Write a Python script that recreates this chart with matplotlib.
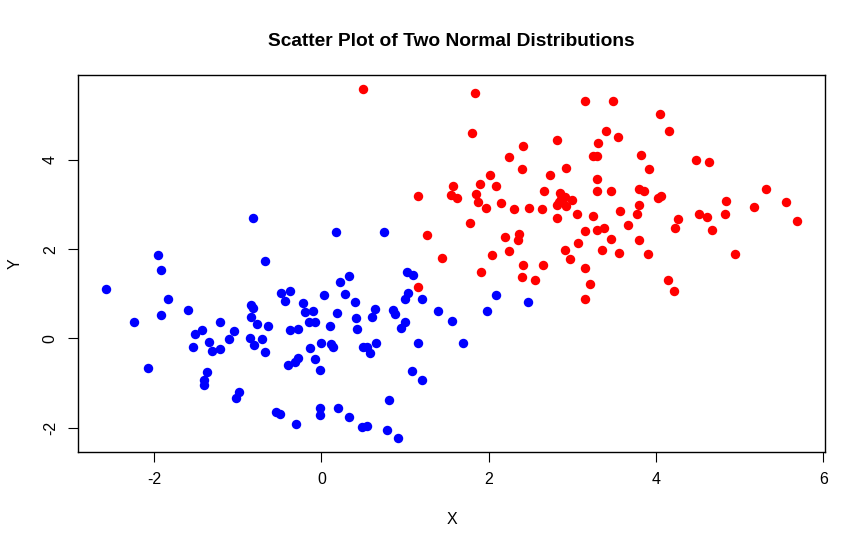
import matplotlib
matplotlib.use("Agg")
import matplotlib.pyplot as plt

blue_x = [-0.82, -1.95, -1.92, -0.67, -2.58, -1.84, -1.60, -1.92, -2.24, -0.48, -0.38, -0.44, -0.22, 0.03,
          -0.84, -0.82, -0.84, -0.77, -0.64, -1.21, -1.05, -1.43, -1.51, -1.11, -1.34, -1.53, -0.86, -0.81,
          -0.71, -0.20, -0.10, -0.15, -0.08, -0.38, -0.28, -0.01, -0.14, -1.31, -1.21, -0.67, -2.07, -1.37,
          -1.40, -1.40, -0.98, -1.02, -0.40, -0.32, -0.28, -0.08, -0.02, -0.54, -0.50, -0.31, -0.02, -0.02,
          0.17, 0.75, 1.02, 1.09, 0.33, 0.22, 0.28, 0.40, 1.03, 1.00, 1.20, 2.09, 0.18, 0.64, 0.61, 0.85,
          0.88, 0.41, 0.10, 0.43, 1.00, 0.95, 1.39, 1.56, 1.98, 0.12, 0.14, 0.50, 0.55, 0.65, 1.15, 1.69,
          0.58, 1.08, 1.20, 0.81, 0.20, 0.33, 0.49, 0.54, 0.78, 0.91, 2.47]
blue_y = [2.70, 1.88, 1.54, 1.74, 1.11, 0.88, 0.63, 0.52, 0.36, 1.02, 1.06, 0.83, 0.80, 0.97,
          0.74, 0.69, 0.48, 0.33, 0.29, 0.36, 0.17, 0.20, 0.10, -0.01, -0.08, -0.18, 0.00, -0.14,
          -0.01, 0.59, 0.61, 0.38, 0.38, 0.20, 0.22, -0.10, -0.22, -0.28, -0.24, -0.30, -0.67, -0.76,
          -0.92, -1.05, -1.19, -1.33, -0.60, -0.52, -0.44, -0.46, -0.71, -1.64, -1.69, -1.92, -1.55, -1.71,
          2.38, 2.38, 1.49, 1.42, 1.40, 1.27, 0.99, 0.81, 1.02, 0.89, 0.88, 0.97, 0.56, 0.66, 0.49, 0.64,
          0.54, 0.45, 0.27, 0.22, 0.36, 0.24, 0.61, 0.40, 0.61, -0.12, -0.20, -0.20, -0.20, -0.10, -0.10, -0.10,
          -0.33, -0.73, -0.94, -1.37, -1.55, -1.76, -1.98, -1.96, -2.05, -2.23, 0.81]

red_x = [0.50, 1.84, 1.80, 3.15, 3.49, 3.40, 3.55, 3.31, 3.25, 3.29, 2.82, 2.41, 2.24, 2.40, 2.93, 2.73,
         3.29, 2.02, 1.57, 1.90, 2.09, 1.15, 1.55, 1.62, 1.85, 1.87, 1.97, 2.15, 2.30, 2.48, 2.64, 2.66,
         2.85, 2.82, 2.93, 2.87, 2.99, 2.91, 2.84, 3.06, 2.82, 3.25, 3.29, 3.46, 3.57, 1.78, 3.15, 3.29,
         3.38, 1.26, 2.20, 2.36, 2.35, 2.04, 2.24, 1.44, 1.91, 2.41, 2.65, 2.40, 2.55, 1.15, 3.07, 3.46,
         2.91, 2.97, 3.36, 3.56, 3.15, 3.21, 3.15,
         4.05, 4.16, 3.82, 3.92, 4.48, 4.63, 3.80, 3.86, 4.02, 4.06, 3.80, 3.77, 3.66, 4.26, 4.23, 4.52,
         4.61, 4.67, 4.83, 4.84, 5.17, 5.32, 5.56, 5.69, 3.80, 3.91, 4.95, 4.14, 4.22]
red_y = [5.59, 5.49, 4.61, 5.31, 5.31, 4.65, 4.52, 4.38, 4.08, 4.08, 4.45, 4.31, 4.06, 3.79, 3.83, 3.67,
         3.58, 3.67, 3.42, 3.45, 3.42, 3.20, 3.22, 3.15, 3.24, 3.06, 2.93, 3.04, 2.90, 2.93, 2.90, 3.31,
         3.27, 2.99, 2.97, 3.13, 3.11, 3.18, 3.06, 2.79, 2.70, 2.74, 3.31, 3.31, 2.86, 2.58, 2.40, 2.43,
         2.47, 2.31, 2.27, 2.33, 2.20, 1.88, 1.95, 1.81, 1.49, 1.65, 1.65, 1.38, 1.31, 1.15, 2.15, 2.22,
         1.99, 1.79, 1.99, 1.92, 1.58, 1.22, 0.88,
         5.02, 4.65, 4.11, 3.79, 3.99, 3.95, 3.36, 3.31, 3.15, 3.20, 2.99, 2.79, 2.54, 2.67, 2.47, 2.79,
         2.72, 2.43, 2.79, 3.08, 2.95, 3.36, 3.06, 2.63, 2.20, 1.90, 1.90, 1.31, 1.06]

x_ticks = [-2, 0, 2, 4, 6]
y_ticks = [-2, 0, 2, 4]
title = "Scatter Plot of Two Normal Distributions"

plt.rcParams['font.family'] = ['Liberation Sans', 'DejaVu Sans']

W, H = 865, 548
fig = plt.figure(figsize=(W / 100, H / 100), dpi=100)
L, R, T, B = 78, 825, 75, 452
ax = fig.add_axes([L / W, 1 - B / H, (R - L) / W, (B - T) / H])

ax.plot(blue_x, blue_y, 'o', color='#0000FF', markersize=6.8, markeredgewidth=0, linestyle='none')
ax.plot(red_x, red_y, 'o', color='#FF0000', markersize=6.8, markeredgewidth=0, linestyle='none')

allx = blue_x + red_x
ally = blue_y + red_y
rx = max(allx) - min(allx)
ry = max(ally) - min(ally)
ax.set_xlim(min(allx) - 0.04 * rx, max(allx) + 0.04 * rx)
ax.set_ylim(min(ally) - 0.04 * ry, max(ally) + 0.04 * ry)

ax.set_xticks(x_ticks)
ax.set_yticks(y_ticks)
ax.set_xticklabels([str(t) for t in x_ticks])
ax.set_yticklabels([str(t) for t in y_ticks], rotation=90, va='center')
ax.tick_params(axis='both', direction='out', length=7, width=0.8, labelsize=11.5, pad=7.5, colors='black')
for s in ax.spines.values():
    s.set_linewidth(1.0)
    s.set_color('black')

ax.set_xlabel("X", fontsize=11.5, labelpad=18)
ax.set_ylabel("Y", fontsize=11.5, labelpad=14.5)
fig.text(451 / W, 1 - 41 / H, title, ha='center', va='center', fontsize=13.8, fontweight='bold')

fig.savefig("out.png", dpi=100, facecolor='white')
